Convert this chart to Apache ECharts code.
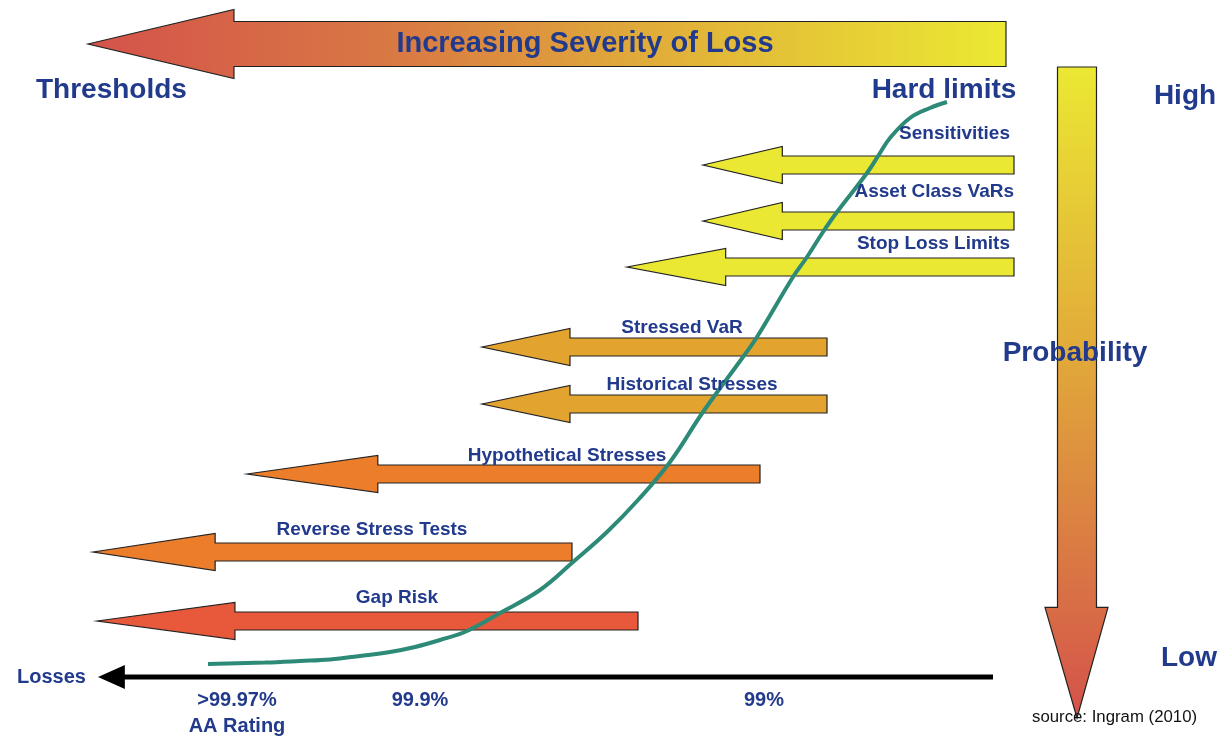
<!DOCTYPE html>
<html>
<head>
<meta charset="utf-8">
<title>Limits by severity and probability</title>
<script src="https://cdn.jsdelivr.net/npm/echarts@6/dist/echarts.min.js"></script>
<style>
  html, body { margin: 0; padding: 0; background: #fff; }
  #chart { width: 1223px; height: 739px; }
</style>
</head>
<body>
<div id="chart"></div>
<script>
// limit arrows: name, tail (right end), tip (left point), level
const limitNames = ['Sensitivities', 'Asset Class VaRs', 'Stop Loss Limits', 'Stressed VaR',
    'Historical Stresses', 'Hypothetical Stresses', 'Reverse Stress Tests', 'Gap Risk'];
const limitTail = [1014, 1014, 1014, 827, 827, 760, 572, 638];
const limitTip = [703, 703, 627, 482, 482, 247, 93, 97];
const limitLevel = [165, 221, 267, 347, 404, 474, 552, 621];

// loss-distribution curve
const curveX = [208, 265, 300, 330, 360, 390, 415, 440, 467, 500, 540, 573, 607, 638, 670, 703,
    743, 757, 793, 807, 823, 837, 867, 880, 890, 910, 930, 947];
const curveY = [664, 662.5, 661, 659.5, 656, 652, 647, 640, 631, 613, 590, 562, 532, 500, 462, 412,
    357, 337, 277, 257, 232, 212, 173, 153, 138, 118, 108, 102];

// losses axis ticks
const tickLabels = ['>99.97%\nAA Rating', '99.9%', '99%'];
const tickX = [237, 420, 764];

const navy = '#223a8c';
const font = '"Liberation Sans", Arial, sans-serif';

// label layout for the limit arrows
const labelX = [1010, 1014, 1010, 682, 692, 567, 372, 397];
const labelAlign = ['right', 'right', 'right', 'center', 'center', 'center', 'center', 'center'];
const labelGap = [31, 29, 23, 19, 19, 18, 22, 23];
const arrowFill = ['#ebe833', '#ebe833', '#ebe833', '#e3a42f', '#e3a42f', '#ec7d2b', '#ec7d2b', '#e8593b'];

const chart = echarts.init(document.getElementById('chart'));

function leftArrow(api, tipX, tailX, y, shaft, head, headFrac) {
    const a = api.coord([tipX, y]);
    const b = api.coord([tailX, y]);
    const hx = a[0] + (b[0] - a[0]) * headFrac;
    return [
        [a[0], a[1]], [hx, a[1] - head], [hx, a[1] - shaft], [b[0], a[1] - shaft],
        [b[0], a[1] + shaft], [hx, a[1] + shaft], [hx, a[1] + head]
    ];
}

function txt(x, y, text, size, align, weight, color) {
    return {
        type: 'text', x: x, y: y, z: 10,
        style: {
            text: text, fill: color || navy, font: (weight || 'bold') + ' ' + size + 'px ' + font,
            textAlign: align || 'left', textVerticalAlign: 'middle',
            align: align || 'left', verticalAlign: 'middle'
        }
    };
}

chart.setOption({
    animation: false,
    grid: { left: 0, right: 0, top: 0, bottom: 0 },
    xAxis: { type: 'value', min: 0, max: 1223, show: false },
    yAxis: { type: 'value', min: 0, max: 739, inverse: true, show: false },
    graphic: [
        txt(585, 44, 'Increasing Severity of Loss', 29, 'center'),
        txt(36, 90, 'Thresholds', 28),
        txt(944, 90, 'Hard limits', 28, 'center'),
        txt(1185, 96, 'High', 28, 'center'),
        txt(1075, 353, 'Probability', 28, 'center'),
        txt(1189, 658, 'Low', 28, 'center'),
        txt(17, 677, 'Losses', 20),
        txt(1032, 717, 'source: Ingram (2010)', 16.8, 'left', 'normal', '#111')
    ],
    series: [
        {
            // severity arrow (top)
            type: 'custom', z: 1,
            data: [[88, 1006, 44]],
            renderItem: function (params, api) {
                return {
                    type: 'polygon',
                    shape: { points: leftArrow(api, api.value(0), api.value(1), api.value(2), 22.5, 34.5, 0.159) },
                    style: {
                        fill: new echarts.graphic.LinearGradient(0, 0, 1, 0, [
                            { offset: 0, color: '#d4524b' },
                            { offset: 0.35, color: '#d97b43' },
                            { offset: 0.6, color: '#e0ab3a' },
                            { offset: 1, color: '#ebe933' }
                        ]),
                        stroke: '#222', lineWidth: 1.2
                    }
                };
            }
        },
        {
            // probability arrow (right)
            type: 'custom', z: 1,
            data: [[1077, 67, 718]],
            renderItem: function (params, api) {
                const t = api.coord([api.value(0), api.value(1)]);
                const p = api.coord([api.value(0), api.value(2)]);
                const hy = t[1] + (p[1] - t[1]) * 0.83;
                const x = t[0];
                return {
                    type: 'polygon',
                    shape: { points: [[x - 19.5, t[1]], [x + 19.5, t[1]], [x + 19.5, hy], [x + 31, hy],
                        [x, p[1]], [x - 32, hy], [x - 19.5, hy]] },
                    style: {
                        fill: new echarts.graphic.LinearGradient(0, 0, 0, 1, [
                            { offset: 0, color: '#ebe833' },
                            { offset: 0.45, color: '#e1a83a' },
                            { offset: 1, color: '#d4524b' }
                        ]),
                        stroke: '#222', lineWidth: 1.2
                    }
                };
            }
        },
        {
            // limit arrows
            type: 'custom', z: 2,
            data: limitNames.map((n, i) => [limitTip[i], limitTail[i], limitLevel[i]]),
            renderItem: function (params, api) {
                return {
                    type: 'polygon',
                    shape: { points: leftArrow(api, api.value(0), api.value(1), api.value(2), 9, 18.5, 0.255) },
                    style: { fill: arrowFill[params.dataIndex], stroke: '#222', lineWidth: 1.2 }
                };
            }
        },
        {
            // losses axis
            type: 'custom', z: 2,
            data: [[98, 993, 677]],
            renderItem: function (params, api) {
                return {
                    type: 'polygon',
                    shape: { points: leftArrow(api, api.value(0), api.value(1), api.value(2), 2.5, 12, 0.03) },
                    style: { fill: '#000' }
                };
            }
        },
        {
            type: 'line', z: 3,
            data: curveX.map((x, i) => [x, curveY[i]]),
            smooth: 0.4,
            symbol: 'none',
            lineStyle: { color: '#2c8a77', width: 4 }
        },
        {
            // limit labels
            type: 'custom', z: 4,
            data: limitNames.map((n, i) => [labelX[i], limitLevel[i] - labelGap[i]]),
            renderItem: function (params, api) {
                const c = api.coord([api.value(0), api.value(1)]);
                const a = labelAlign[params.dataIndex];
                return {
                    type: 'text', x: c[0], y: c[1],
                    style: {
                        text: limitNames[params.dataIndex], fill: navy,
                        font: 'bold 19px ' + font,
                        textAlign: a, textVerticalAlign: 'middle', align: a, verticalAlign: 'middle'
                    }
                };
            }
        },
        {
            // tick labels under the losses axis
            type: 'scatter', z: 4,
            symbolSize: 0,
            itemStyle: { opacity: 1 },
            data: tickX.map((x, i) => ({ value: [x, 687], name: tickLabels[i] })),
            label: {
                show: true, position: 'bottom', distance: 0,
                formatter: p => p.name,
                color: navy, fontSize: 20, fontWeight: 'bold', fontFamily: font,
                lineHeight: 26, align: 'center'
            }
        }
    ]
});
</script>
</body>
</html>
